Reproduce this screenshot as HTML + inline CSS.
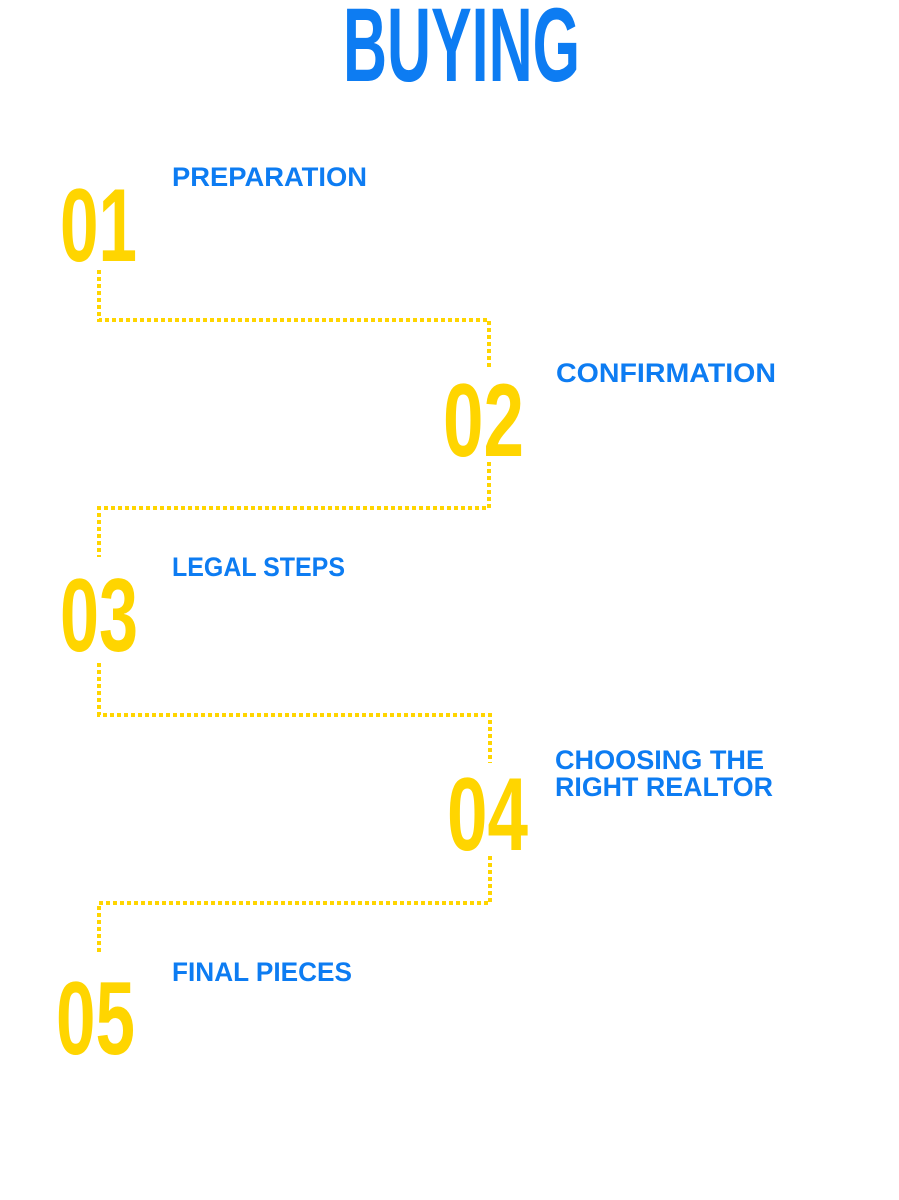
<!DOCTYPE html>
<html><head><meta charset="utf-8"><style>html,body{margin:0;padding:0;background:#fff;width:899px;height:1200px;overflow:hidden}</style></head>
<body>
<svg width="899" height="1200" viewBox="0 0 899 1200" xmlns="http://www.w3.org/2000/svg">
<rect width="899" height="1200" fill="#fff"/>
<g font-family="Liberation Sans, sans-serif" font-weight="bold">
<text x="343" y="81" font-size="105" fill="#0d7cf2" textLength="237" lengthAdjust="spacingAndGlyphs">BUYING</text>
<g fill="#ffd500" font-size="104">
<text x="60" y="261" textLength="77" lengthAdjust="spacingAndGlyphs">01</text>
<text x="443" y="456" textLength="81" lengthAdjust="spacingAndGlyphs">02</text>
<text x="60" y="651" textLength="78" lengthAdjust="spacingAndGlyphs">03</text>
<text x="447" y="850" textLength="81" lengthAdjust="spacingAndGlyphs">04</text>
<text x="56" y="1054" textLength="79" lengthAdjust="spacingAndGlyphs">05</text>
</g>
<g fill="#0d7cf2" font-size="27">
<text x="172" y="186" textLength="195" lengthAdjust="spacingAndGlyphs">PREPARATION</text>
<text x="556" y="382" textLength="220" lengthAdjust="spacingAndGlyphs">CONFIRMATION</text>
<text x="172" y="576" textLength="173" lengthAdjust="spacingAndGlyphs">LEGAL STEPS</text>
<text x="555" y="769" textLength="209" lengthAdjust="spacingAndGlyphs">CHOOSING THE</text>
<text x="555" y="796" textLength="218" lengthAdjust="spacingAndGlyphs">RIGHT REALTOR</text>
<text x="172" y="981" textLength="180" lengthAdjust="spacingAndGlyphs">FINAL PIECES</text>
</g>
</g>
<g fill="none" stroke="#ffd500" stroke-width="4" stroke-dasharray="4 3">
<polyline points="99,270 99,320 489,320 489,369"/>
<polyline points="489,462 489,508 99,508 99,557"/>
<polyline points="99,663 99,715 490,715 490,763"/>
<polyline points="490,856 490,903 99,903 99,953"/>
</g>
</svg>
</body></html>
